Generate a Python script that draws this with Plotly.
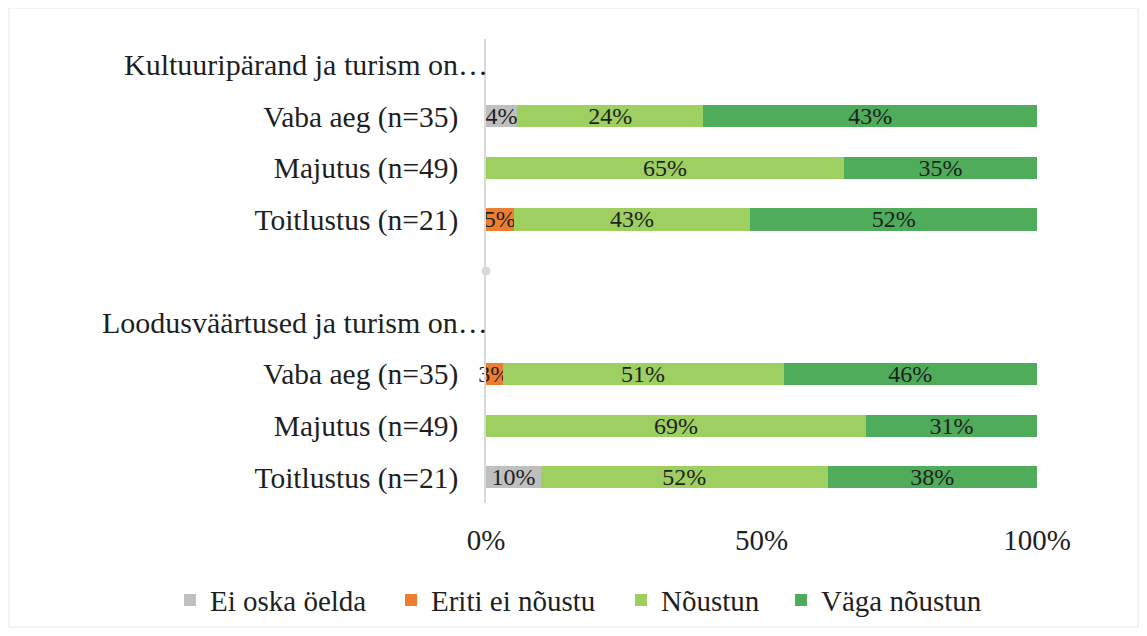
import plotly.graph_objects as go

rows = ["Kultuuripärand ja turism on…", "Vaba aeg (n=35)", "Majutus (n=49)", "Toitlustus (n=21)", "",
        "Loodusväärtused ja turism on…", "Vaba aeg (n=35)", "Majutus (n=49)", "Toitlustus (n=21)"]
is_header = [True, False, False, False, False, True, False, False, False]

series_names = ["Ei oska öelda", "Eriti ei nõustu", "Nõustun", "Väga nõustun"]
ei_oska = [None, 4, 0, 0, None, None, 0, 0, 10]
eriti = [None, 0, 0, 5, None, None, 3, 0, 0]
noustun = [None, 24, 65, 43, None, None, 51, 69, 52]
vaga = [None, 43, 35, 52, None, None, 46, 31, 38]
colors = ["#BFBFBF", "#ED7D31", "#9DD060", "#4EAC5B"]

x_ticks = [0, 50, 100]
x_tick_labels = ["0%", "50%", "100%"]

FONT = "Liberation Serif, Times New Roman, serif"
TXT = "#1f1f1f"

W, H = 1131, 620
L, R, T, B = 478, 102, 31, 125
PW, PH = W - L - R, H - T - B

legend_item_left = [171, 392, 622, 782]  # px in figure coords
legend_names = ["legend", "legend2", "legend3", "legend4"]

ypos = list(range(len(rows)))
fig = go.Figure()
for name, vals, col, lg in zip(series_names, [ei_oska, eriti, noustun, vaga], colors, legend_names):
    fig.add_trace(go.Bar(
        y=ypos, x=vals, name=name, orientation="h", legend=lg,
        marker=dict(color=col, line=dict(width=0)),
        text=[f"{v}%" if v else "" for v in vals],
        textposition="inside", insidetextanchor="middle", textangle=0,
        textfont=dict(family=FONT, size=24, color=TXT),
        cliponaxis=False, hoverinfo="skip",
    ))

# small gray marker at the empty separator row
fig.add_trace(go.Scatter(x=[0], y=[rows.index("")], mode="markers",
                         marker=dict(color="#D9D9D9", size=9), showlegend=False,
                         cliponaxis=False, hoverinfo="skip"))

tickvals = [i for i, h in enumerate(is_header) if not h and rows[i]]
ticktext = [rows[i] for i in tickvals]

for i, h in enumerate(is_header):
    if h:
        fig.add_annotation(x=0, y=i, xref="x", yref="y", text=rows[i], showarrow=False,
                           xanchor="right", yanchor="middle", xshift=4,
                           font=dict(family=FONT, size=30, color=TXT))

legend_common = dict(orientation="h", xref="container", xanchor="left",
                     yref="container", y=0.045, yanchor="middle",
                     font=dict(family=FONT, size=29, color=TXT), itemwidth=30,
                     indentation=-9, bgcolor="rgba(0,0,0,0)")
legends = {}
for lg, xl in zip(legend_names, legend_item_left):
    legends[lg] = dict(legend_common, x=xl / W)

fig.update_layout(
    width=W, height=H,
    barmode="stack", barnorm="percent", bargap=0.57,
    paper_bgcolor="white", plot_bgcolor="white",
    margin=dict(l=L, r=R, t=T, b=B, autoexpand=False),
    font=dict(family=FONT, size=29, color=TXT),
    uniformtext=dict(mode="show", minsize=24),
    showlegend=True,
    xaxis=dict(range=[0, 100], tickvals=x_ticks, ticktext=x_tick_labels, showgrid=False,
               zeroline=False, showline=False, ticks="", ticklabelstandoff=17,
               tickfont=dict(family=FONT, size=29, color=TXT)),
    yaxis=dict(range=[len(rows) - 0.5, -0.5], tickvals=tickvals, ticktext=ticktext,
               showgrid=False, zeroline=False, showline=True, linecolor="#D9D9D9", linewidth=1.5,
               ticks="", ticklabelstandoff=20,
               tickfont=dict(family=FONT, size=29.5, color=TXT)),
    shapes=[dict(type="rect", xref="paper", yref="paper",
                 x0=(1 - L) / PW, x1=(W - 1 - L) / PW,
                 y0=-(H - 1 - (T + PH)) / PH, y1=(T + PH) / PH,
                 line=dict(color="#E6E6E6", width=1))],
    **legends,
)

fig.write_html("out.html")
